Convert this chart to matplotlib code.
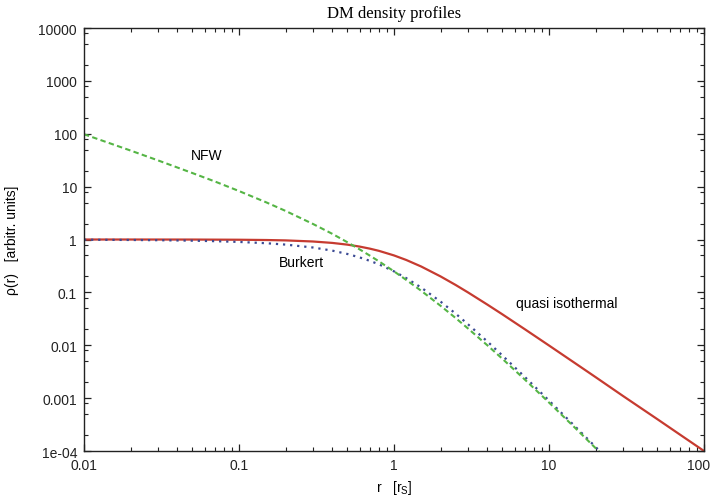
# DM density profiles (log-log)
import numpy as np
from matplotlib import pyplot as plt
from matplotlib.ticker import LogLocator, FixedLocator, FixedFormatter, NullFormatter
from matplotlib.transforms import ScaledTranslation

# NFW profile (green dashed)
r_nfw = [0.01, 0.02, 0.03, 0.05, 0.07, 0.1, 0.15, 0.2, 0.3, 0.4, 0.5, 0.6, 0.7, 0.8,
         1.0, 1.2, 1.5, 2.0, 2.5, 3.0, 4.0, 5.0, 7.0, 10.0, 15.0, 20.0, 25.0]
rho_nfw = [98.0, 48.1, 31.4, 18.1, 12.5, 8.26, 5.04, 3.47, 1.97, 1.28, 0.889, 0.651, 0.494, 0.386,
           0.25, 0.172, 0.107, 0.0556, 0.0327, 0.0208, 0.0100, 0.00556, 0.00223, 0.000826,
           0.00026, 0.000113, 0.000059]

# Burkert profile (blue dotted)
r_bur = [0.01, 0.02, 0.03, 0.05, 0.07, 0.1, 0.15, 0.2, 0.3, 0.4, 0.5, 0.6, 0.7, 0.8,
         1.0, 1.2, 1.5, 2.0, 2.5, 3.0, 4.0, 5.0, 7.0, 10.0, 15.0, 20.0, 25.0]
rho_bur = [0.990, 0.980, 0.970, 0.950, 0.930, 0.900, 0.851, 0.801, 0.706, 0.616, 0.533, 0.459, 0.394, 0.339,
           0.25, 0.186, 0.123, 0.0667, 0.0396, 0.025, 0.0118, 0.00641, 0.0025, 0.0009,
           0.000277, 0.000119, 0.000061]

# quasi isothermal profile (red solid)
r_iso = [0.01, 0.02, 0.05, 0.1, 0.15, 0.2, 0.3, 0.4, 0.5, 0.6, 0.7, 0.8, 1.0, 1.2, 1.5,
         2.0, 2.5, 3.0, 4.0, 5.0, 7.0, 10.0, 15.0, 20.0, 30.0, 50.0, 70.0, 100.0]
rho_iso = [1.0, 1.0, 0.998, 0.990, 0.978, 0.962, 0.917, 0.862, 0.80, 0.735, 0.671, 0.610, 0.50, 0.410, 0.308,
           0.20, 0.138, 0.10, 0.0588, 0.0385, 0.020, 0.0099, 0.00442, 0.00249, 0.0011, 0.0004, 0.000204, 0.0001]

y_ticks = [1e-4, 1e-3, 1e-2, 1e-1, 1, 10, 100, 1000, 10000]
y_labels = ['1e-04', '0.001', '0.01', '0.1', '1', '10', '100', '1000', '10000']
x_ticks = [0.01, 0.1, 1, 10, 100]
x_labels = ['0.01', '0.1', '1', '10', '100']

plt.rcParams['font.family'] = ['Liberation Sans', 'DejaVu Sans']

fig = plt.figure(figsize=(7.14, 5.02), dpi=100)
ax = fig.add_axes([0.1176, 0.0996, 0.8684, 0.8426])

ax.plot(r_iso, rho_iso, color='#c63b30', linewidth=1.6, linestyle='-')
ax.plot(r_bur, rho_bur, color='#3b4a94', linewidth=1.6, linestyle=(0, (1, 2.2)))
ax.plot(r_nfw, rho_nfw, color='#55b545', linewidth=1.5, linestyle=(0, (2.6, 1.6)))

ax.set_xscale('log')
ax.set_yscale('log')
ax.set_xlim(0.01, 100)
ax.set_ylim(1e-4, 1e4)

ax.xaxis.set_major_locator(FixedLocator(x_ticks))
ax.xaxis.set_major_formatter(FixedFormatter(x_labels))
ax.xaxis.set_minor_locator(LogLocator(base=10, subs=np.arange(2, 10), numticks=20))
ax.xaxis.set_minor_formatter(NullFormatter())
ax.yaxis.set_major_locator(FixedLocator(y_ticks))
ax.yaxis.set_major_formatter(FixedFormatter(y_labels))
ax.yaxis.set_minor_locator(LogLocator(base=10, subs=[2, 5, 8], numticks=20))
ax.yaxis.set_minor_formatter(NullFormatter())

ax.tick_params(which='both', direction='in', top=True, right=True, labelsize=10, colors='#222222')
ax.tick_params(which='major', length=5, width=0.9, pad=5)
ax.tick_params(which='minor', length=3, width=0.8)
for s in ax.spines.values():
    s.set_linewidth(1.0)
    s.set_color('#222222')

# keep the last x tick label inside the figure
fig.canvas.draw()
last = ax.get_xticklabels()[-1]
last.set_transform(last.get_transform() + ScaledTranslation(-4 / 72, 0, fig.dpi_scale_trans))

ax.set_title('DM density profiles', family='Liberation Serif', fontsize=12, pad=8)
ax.set_xlabel(r'r   [r$_\mathregular{S}$]', fontsize=10, labelpad=4)
ax.set_ylabel(r'ρ(r)   [arbitr. units]', fontsize=10, labelpad=14)

ax.text(0.198, 0.700, 'NFW', transform=ax.transAxes, ha='center', va='center', fontsize=10)
ax.text(0.350, 0.447, 'Burkert', transform=ax.transAxes, ha='center', va='center', fontsize=10)
ax.text(0.779, 0.350, 'quasi isothermal', transform=ax.transAxes, ha='center', va='center', fontsize=10)

fig.savefig('out.png', dpi=100)
